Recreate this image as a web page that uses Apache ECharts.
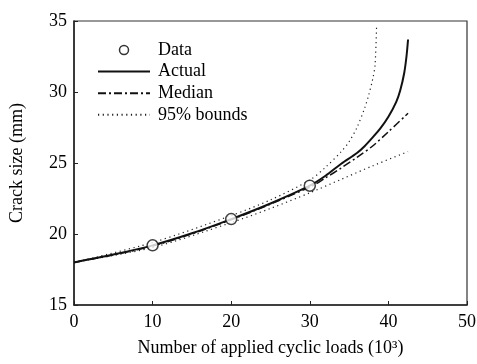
<!DOCTYPE html>
<html>
<head>
<meta charset="utf-8">
<script src="https://cdn.jsdelivr.net/npm/echarts@6/dist/echarts.min.js"></script>
<style>html,body{margin:0;padding:0;background:#fff;}#c{width:477px;height:364px;}</style>
</head>
<body>
<div id="c"></div>
<script>
// Observed data points
const dataX = [10, 20, 30];
const dataY = [19.2, 21.05, 23.4];
// Actual crack growth
const actualX = [0, 5, 10, 15, 20, 25, 30, 32, 34, 36, 37, 38, 39, 40, 41, 41.5, 42, 42.3, 42.5];
const actualY = [18.0, 18.55, 19.2, 20.05, 21.05, 22.15, 23.4, 24.1, 24.95, 25.7, 26.2, 26.8, 27.45, 28.25, 29.3, 30.1, 31.3, 32.5, 33.7];
// Median prediction
const medX = [0, 10, 20, 30, 32, 34, 36, 38, 40, 42.5];
const medY = [18.0, 19.15, 21.0, 23.3, 23.95, 24.65, 25.4, 26.2, 27.2, 28.5];
// 95% bounds
const upX = [0, 10, 20, 25, 30, 32, 34, 35, 36, 37, 37.5, 38, 38.3, 38.5];
const upY = [18.0, 19.4, 21.3, 22.4, 23.8, 24.7, 25.8, 26.5, 27.5, 28.9, 29.8, 30.9, 31.9, 34.7];
const lowX = [0, 10, 20, 25, 30, 34, 38, 42.5];
const lowY = [18.0, 19.05, 20.8, 21.8, 22.9, 23.85, 24.8, 25.8];
// Axis ticks
const xTicks = { min: 0, max: 50, interval: 10 };
const yTicks = { min: 15, max: 35, interval: 5 };

const pairs = (xs, ys) => xs.map((x, i) => [x, ys[i]]);
const FONT = "'Liberation Serif', 'Times New Roman', serif";
const hideSym = { color: 'rgba(0,0,0,0)', borderWidth: 0, opacity: 0 };

const chart = echarts.init(document.getElementById('c'));
chart.setOption({
  animation: false,
  backgroundColor: '#fff',
  textStyle: { fontFamily: FONT, color: '#000' },
  grid: { left: 74, right: 10, top: 21, bottom: 59, show: true, borderColor: '#333', borderWidth: 1.2,
          containLabel: false, outerBoundsMode: 'none' },
  legend: {
    left: 97, top: 41, orient: 'vertical', padding: 0,
    itemWidth: 52, itemHeight: 9, itemGap: 3.6,
    textStyle: { fontFamily: FONT, fontSize: 18, color: '#000', lineHeight: 14, padding: [0, 0, 0, 3] },
    data: [
      { name: 'Data', itemStyle: { color: '#fff', borderColor: '#000', borderWidth: 1.5 } },
      { name: 'Actual', itemStyle: hideSym },
      { name: 'Median', itemStyle: hideSym },
      { name: '95% bounds', itemStyle: hideSym }
    ]
  },
  xAxis: {
    type: 'value', min: xTicks.min, max: xTicks.max, interval: xTicks.interval,
    name: 'Number of applied cyclic loads (10³)', nameLocation: 'middle', nameGap: 34,
    nameTextStyle: { fontFamily: FONT, fontSize: 18, color: '#000' },
    axisLine: { lineStyle: { color: '#222', width: 1.5 } },
    axisTick: { inside: true, length: 4, lineStyle: { color: '#222' } },
    axisLabel: { fontFamily: FONT, fontSize: 18, color: '#000', margin: 8 },
    splitLine: { show: false }
  },
  yAxis: {
    type: 'value', min: yTicks.min, max: yTicks.max, interval: yTicks.interval,
    name: 'Crack size (mm)', nameLocation: 'middle', nameGap: 48,
    nameTextStyle: { fontFamily: FONT, fontSize: 18, color: '#000' },
    axisLine: { lineStyle: { color: '#222', width: 1.5 } },
    axisTick: { inside: true, length: 4, lineStyle: { color: '#222' } },
    axisLabel: { fontFamily: FONT, fontSize: 18, color: '#000', margin: 7 },
    splitLine: { show: false }
  },
  series: [
    { name: 'Actual', type: 'line', data: pairs(actualX, actualY), symbol: 'none', smooth: 0.3,
      lineStyle: { color: '#111', width: 2 }, itemStyle: { color: '#111' }, z: 3 },
    { name: 'Median', type: 'line', data: pairs(medX, medY), symbol: 'none', smooth: 0.3,
      lineStyle: { color: '#111', width: 1.5, type: [8, 3, 2, 3] }, itemStyle: { color: '#111' }, z: 2 },
    { name: '95% bounds', type: 'line', data: pairs(upX, upY), symbol: 'none', smooth: 0.3,
      lineStyle: { color: '#222', width: 1.2, type: [1.2, 3.5] }, itemStyle: { color: '#222' }, z: 2 },
    { name: '95% bounds', type: 'line', data: pairs(lowX, lowY), symbol: 'none', smooth: 0.3,
      lineStyle: { color: '#222', width: 1.2, type: [1.2, 3.5] }, itemStyle: { color: '#222' }, z: 2 },
    { name: 'Data', type: 'scatter', data: pairs(dataX, dataY), symbol: 'circle', symbolSize: 11,
      itemStyle: { color: '#fff', borderColor: '#111', borderWidth: 1.5 }, z: 5 }
  ]
});
</script>
</body>
</html>
